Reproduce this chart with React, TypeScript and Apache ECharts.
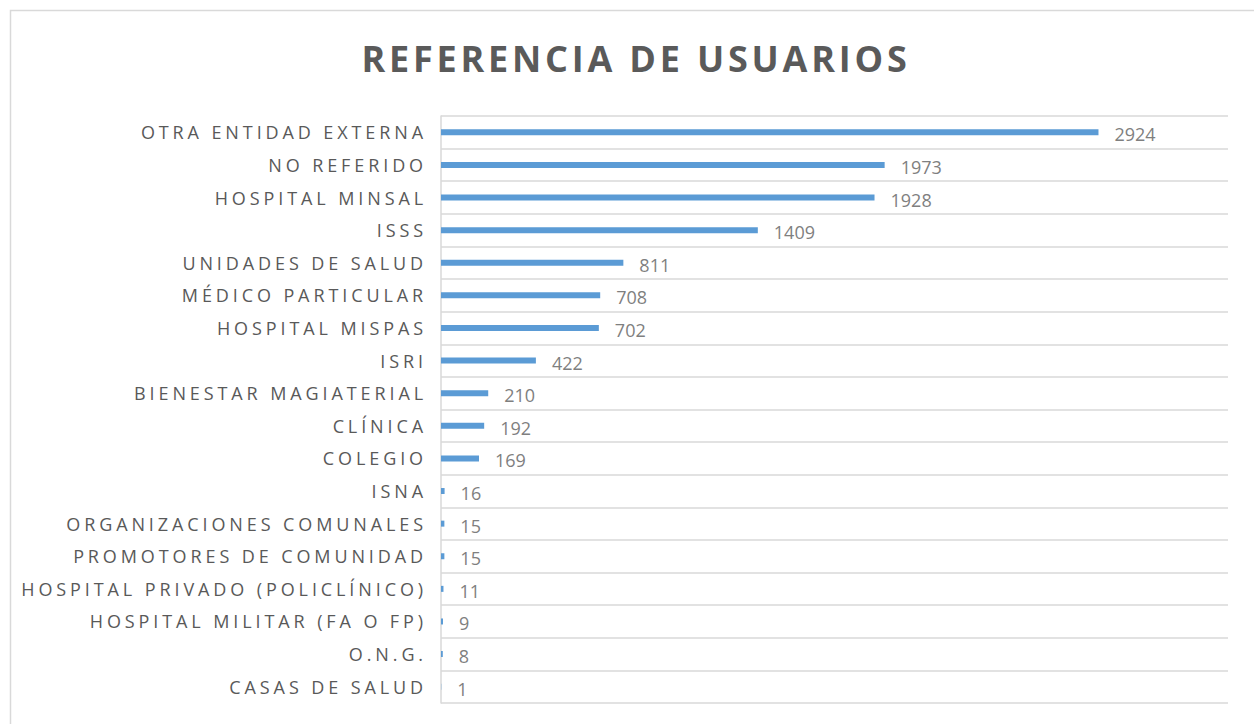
import React, { useEffect, useRef } from "react";
import * as echarts from "echarts";

const categories = [
  "OTRA ENTIDAD EXTERNA",
  "NO REFERIDO",
  "HOSPITAL MINSAL",
  "ISSS",
  "UNIDADES DE SALUD",
  "MÉDICO PARTICULAR",
  "HOSPITAL MISPAS",
  "ISRI",
  "BIENESTAR MAGIATERIAL",
  "CLÍNICA",
  "COLEGIO",
  "ISNA",
  "ORGANIZACIONES COMUNALES",
  "PROMOTORES DE COMUNIDAD",
  "HOSPITAL PRIVADO (POLICLÍNICO)",
  "HOSPITAL MILITAR (FA O FP)",
  "O.N.G.",
  "CASAS DE SALUD",
];
const values = [2924, 1973, 1928, 1409, 811, 708, 702, 422, 210, 192, 169, 16, 15, 15, 11, 9, 8, 1];
const titleText = "REFERENCIA DE USUARIOS";

const FONT = "'Open Sans', 'Noto Sans', sans-serif";

export default function App() {
  const ref = useRef<HTMLDivElement>(null);
  useEffect(() => {
    if (!ref.current) return;
    const chart = echarts.init(ref.current, undefined, { renderer: "svg" });
    chart.setOption({
      animation: false,
      backgroundColor: "#ffffff",
      title: {
        text: titleText,
        left: 631,
        textAlign: "center",
        top: 35,
        textStyle: {
          fontFamily: FONT,
          fontWeight: "bold",
          fontSize: 36,
          color: "#5a5a5a",
        },
      },
      graphic: [
        {
          type: "rect",
          shape: { x: 10.5, y: 10.5, width: 1300, height: 800 },
          style: { fill: "none", stroke: "#d9d9d9", lineWidth: 1.5 },
          silent: true,
        },
      ],
      grid: { left: 441, right: 26, top: 116, bottom: 21, containLabel: false },
      xAxis: {
        type: "value",
        min: 0,
        max: 3500,
        show: false,
        splitLine: { show: false },
      },
      yAxis: {
        type: "category",
        data: categories,
        inverse: true,
        axisLine: { show: true, lineStyle: { color: "#d9d9d9", width: 1.5 } },
        axisTick: { show: false },
        splitLine: { show: true, lineStyle: { color: "#d9d9d9", width: 1.5 } },
        axisLabel: {
          margin: 14,
          fontFamily: FONT,
          fontSize: 18,
          color: "#595959",
        },
      },
      series: [
        {
          type: "bar",
          data: values,
          barWidth: 6,
          itemStyle: { color: "#5b9bd5" },
          label: {
            show: true,
            position: "right",
            distance: 16,
            offset: [0, 2],
            fontFamily: FONT,
            fontSize: 18,
            color: "#7f7f7f",
          },
        },
      ],
    });
    return () => chart.dispose();
  }, []);
  return (
    <>
      <style>{`
        body { margin: 0; }
        #chartbox text[fill="#595959"] { letter-spacing: 3.9px; }
        #chartbox text[fill="#5a5a5a"] { letter-spacing: 3.8px; }
      `}</style>
      <div id="chartbox" ref={ref} style={{ width: 1254, height: 724 }} />
    </>
  );
}
